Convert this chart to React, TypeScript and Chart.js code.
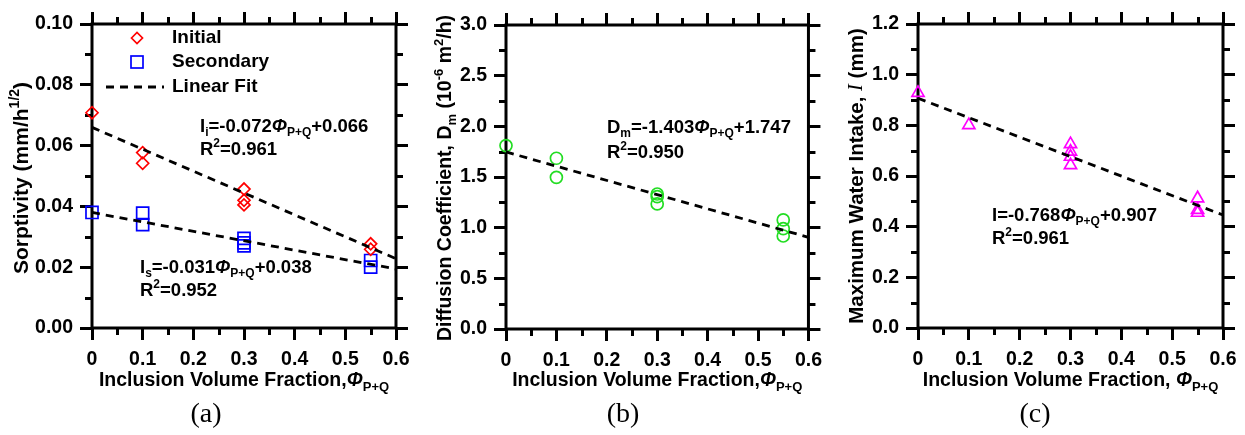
import React, { useEffect, useRef } from 'react';
import { Chart, registerables } from 'chart.js';

Chart.register(...registerables);

const SANS = '"Liberation Sans", Arial, sans-serif';
const SERIF = '"Liberation Serif", "Times New Roman", serif';

// ---- shared x axis ----
const xMajor = [0, 0.1, 0.2, 0.3, 0.4, 0.5, 0.6];
const xMajorLabels = ['0', '0.1', '0.2', '0.3', '0.4', '0.5', '0.6'];
const xMinor = [0.05, 0.15, 0.25, 0.35, 0.45, 0.55];

// ---- panel (a): sorptivity ----
const aYMajor = [0, 0.02, 0.04, 0.06, 0.08, 0.1];
const aYLabels = ['0.00', '0.02', '0.04', '0.06', '0.08', '0.10'];
const aYMinor = [0.01, 0.03, 0.05, 0.07, 0.09];
const initialX = [0, 0.1, 0.1, 0.3, 0.3, 0.3, 0.55, 0.55];
const initialY = [0.0708, 0.0577, 0.0542, 0.0457, 0.042, 0.0405, 0.0277, 0.0259];
const secondaryX = [0, 0.1, 0.1, 0.3, 0.3, 0.3, 0.55, 0.55];
const secondaryY = [0.038, 0.0378, 0.034, 0.0295, 0.028, 0.027, 0.0222, 0.02];
const fitInitialX = [0, 0.6];
const fitInitialY = [0.066, 0.0228];
const fitSecondaryX = [0, 0.6];
const fitSecondaryY = [0.038, 0.0194];

// ---- panel (b): diffusion coefficient ----
const bYMajor = [0, 0.5, 1, 1.5, 2, 2.5, 3];
const bYLabels = ['0.0', '0.5', '1.0', '1.5', '2.0', '2.5', '3.0'];
const bYMinor = [0.25, 0.75, 1.25, 1.75, 2.25, 2.75];
const diffX = [0, 0.1, 0.1, 0.3, 0.3, 0.3, 0.55, 0.55, 0.55];
const diffY = [1.81, 1.685, 1.497, 1.332, 1.306, 1.234, 1.076, 0.99, 0.918];
const fitDiffX = [0, 0.6];
const fitDiffY = [1.747, 0.905];

// ---- panel (c): maximum water intake ----
const cYMajor = [0, 0.2, 0.4, 0.6, 0.8, 1.0, 1.2];
const cYLabels = ['0.0', '0.2', '0.4', '0.6', '0.8', '1.0', '1.2'];
const cYMinor = [0.1, 0.3, 0.5, 0.7, 0.9, 1.1];
const intakeX = [0, 0.1, 0.3, 0.3, 0.3, 0.3, 0.55, 0.55, 0.55];
const intakeY = [0.928, 0.801, 0.726, 0.696, 0.676, 0.643, 0.512, 0.466, 0.455];
const fitIntakeX = [0, 0.6];
const fitIntakeY = [0.907, 0.446];

type Seg = { t: string; sub?: boolean; sup?: boolean; it?: boolean; serif?: boolean; normal?: boolean };

const pts = (xs: number[], ys: number[]) => xs.map((x, i) => ({ x, y: ys[i] }));

function segFont(s: Seg, size: number) {
  const sz = s.sub || s.sup ? Math.round(size * 0.66) : size;
  return `${s.it ? 'italic ' : ''}${s.normal ? '' : 'bold '}${sz}px ${s.serif ? SERIF : SANS}`;
}

function drawRich(ctx: CanvasRenderingContext2D, segs: Seg[], x: number, y: number, size: number, align: 'left' | 'center', rotate = false) {
  ctx.save();
  ctx.translate(x, y);
  if (rotate) ctx.rotate(-Math.PI / 2);
  ctx.textBaseline = 'middle';
  ctx.textAlign = 'left';
  ctx.fillStyle = '#000';
  const widths = segs.map((s) => {
    ctx.font = segFont(s, size);
    return ctx.measureText(s.t).width;
  });
  const total = widths.reduce((a, b) => a + b, 0);
  let cx = align === 'center' ? -total / 2 : 0;
  segs.forEach((s, i) => {
    ctx.font = segFont(s, size);
    const dy = s.sub ? size * 0.33 : s.sup ? -size * 0.33 : 0;
    ctx.fillText(s.t, cx, dy);
    cx += widths[i];
  });
  ctx.restore();
}

type Note = { segs: Seg[]; x: number; y: number };
type PanelCfg = {
  left: number;
  width: number;
  plot: { l: number; r: number; t: number; b: number };
  yMin: number;
  yMax: number;
  yMajor: number[];
  yLabels: string[];
  yMinor: number[];
  datasets: any[];
  xTitle: Seg[];
  yTitle: Seg[];
  yTitleX: number;
  yTitleY: number;
  yTitleSize: number;
  notes: Note[];
  legend?: boolean;
};

const PHI: Seg = { t: 'Φ', it: true };
const PQ: Seg = { t: 'P+Q', sub: true };

const fitStyle = {
  showLine: true,
  borderColor: '#000',
  borderWidth: 2.8,
  borderDash: [8, 6],
  pointRadius: 0,
  fill: false,
  order: 0,
  clip: false,
};

const markerStyle = (color: string, style: string, radius: number) => ({
  showLine: false,
  pointStyle: style,
  pointRadius: radius,
  pointBorderColor: color,
  pointBackgroundColor: 'rgba(0,0,0,0)',
  borderColor: color,
  backgroundColor: 'rgba(0,0,0,0)',
  pointBorderWidth: 1.7,
  order: 1,
  clip: false,
});

const panels: PanelCfg[] = [
  {
    left: 0,
    width: 420,
    plot: { l: 92, r: 396, t: 24, b: 328 },
    yMin: 0,
    yMax: 0.1,
    yMajor: aYMajor,
    yLabels: aYLabels,
    yMinor: aYMinor,
    datasets: [
      { label: 'Linear Fit', data: pts(fitInitialX, fitInitialY), ...fitStyle },
      { label: 'Linear Fit 2', data: pts(fitSecondaryX, fitSecondaryY), ...fitStyle },
      { label: 'Initial', data: pts(initialX, initialY), ...markerStyle('#ff0000', 'rectRot', 6) },
      { label: 'Secondary', data: pts(secondaryX, secondaryY), ...markerStyle('#0000ff', 'rect', 8.5) },
    ],
    xTitle: [{ t: 'Inclusion Volume Fraction,' }, PHI, PQ],
    yTitle: [{ t: 'Sorptivity (mm/h' }, { t: '1/2', sup: true }, { t: ')' }],
    yTitleX: 22,
    yTitleY: 178,
    yTitleSize: 21,
    notes: [
      { segs: [{ t: 'I' }, { t: 'i', sub: true }, { t: '=-0.072' }, PHI, PQ, { t: '+0.066' }], x: 200, y: 127 },
      { segs: [{ t: 'R' }, { t: '2', sup: true }, { t: '=0.961' }], x: 200, y: 150 },
      { segs: [{ t: 'I' }, { t: 's', sub: true }, { t: '=-0.031' }, PHI, PQ, { t: '+0.038' }], x: 140, y: 268 },
      { segs: [{ t: 'R' }, { t: '2', sup: true }, { t: '=0.952' }], x: 140, y: 291 },
    ],
    legend: true,
  },
  {
    left: 420,
    width: 410,
    plot: { l: 506, r: 810, t: 25, b: 329 },
    yMin: 0,
    yMax: 3,
    yMajor: bYMajor,
    yLabels: bYLabels,
    yMinor: bYMinor,
    datasets: [
      { label: 'Fit', data: pts(fitDiffX, fitDiffY), ...fitStyle },
      { label: 'Dm', data: pts(diffX, diffY), ...markerStyle('#22dd22', 'circle', 6) },
    ],
    xTitle: [{ t: 'Inclusion Volume Fraction,' }, PHI, PQ],
    yTitle: [
      { t: 'Diffusion Coefficient, D' },
      { t: 'm', sub: true },
      { t: ' (10' },
      { t: '-6', sup: true },
      { t: ' m' },
      { t: '2', sup: true },
      { t: '/h)' },
    ],
    yTitleX: 446,
    yTitleY: 178,
    yTitleSize: 19.5,
    notes: [
      { segs: [{ t: 'D' }, { t: 'm', sub: true }, { t: '=-1.403' }, PHI, PQ, { t: '+1.747' }], x: 607, y: 128 },
      { segs: [{ t: 'R' }, { t: '2', sup: true }, { t: '=0.950' }], x: 607, y: 153 },
    ],
  },
  {
    left: 830,
    width: 415,
    plot: { l: 918, r: 1223, t: 24, b: 328 },
    yMin: 0,
    yMax: 1.2,
    yMajor: cYMajor,
    yLabels: cYLabels,
    yMinor: cYMinor,
    datasets: [
      { label: 'Fit', data: pts(fitIntakeX, fitIntakeY), ...fitStyle },
      { label: 'I', data: pts(intakeX, intakeY), ...markerStyle('#ff00ff', 'triangle', 7) },
    ],
    xTitle: [{ t: 'Inclusion Volume Fraction, ' }, PHI, PQ],
    yTitle: [{ t: 'Maximum Water Intake, ' }, { t: 'I', it: true, serif: true, normal: true }, { t: ' (mm)' }],
    yTitleX: 857,
    yTitleY: 176,
    yTitleSize: 20.5,
    notes: [
      { segs: [{ t: 'I=-0.768' }, PHI, PQ, { t: '+0.907' }], x: 992, y: 216 },
      { segs: [{ t: 'R' }, { t: '2', sup: true }, { t: '=0.961' }], x: 992, y: 239 },
    ],
  },
];

const captions = [
  { text: '(a)', x: 206 },
  { text: '(b)', x: 623 },
  { text: '(c)', x: 1035 },
];

const H = 435;
const TICK_SIZE = 19.5;
const NOTE_SIZE = 18.5;
const XTITLE_SIZE = 19.5;

function Panel({ cfg }: { cfg: PanelCfg }) {
  const ref = useRef<HTMLCanvasElement>(null);
  useEffect(() => {
    const canvas = ref.current!;
    const { l, r, t, b } = cfg.plot;
    const wl = l - cfg.left;
    const wr = cfg.left + cfg.width - r;
    const ht = t;
    const hb = H - b;
    const off = cfg.left;

    const grid = { drawOnChartArea: false, drawTicks: true, tickLength: 12, tickWidth: 3, tickColor: '#000' };
    const tickFont = { family: SANS, size: TICK_SIZE, weight: 'bold' as const };

    const decor = {
      id: 'decor',
      beforeDatasetsDraw(chart: any) {
        const ctx: CanvasRenderingContext2D = chart.ctx;
        const ca = chart.chartArea;
        ctx.save();
        ctx.strokeStyle = '#000';
        ctx.lineWidth = 3;
        ctx.setLineDash([]);
        ctx.strokeRect(ca.left, ca.top, ca.right - ca.left, ca.bottom - ca.top);
        // minor ticks
        ctx.beginPath();
        xMinor.forEach((v) => {
          const px = Math.round(chart.scales.x.getPixelForValue(v)) + 0.5;
          ctx.moveTo(px, ca.bottom);
          ctx.lineTo(px, ca.bottom + 7);
          ctx.moveTo(px, ca.top);
          ctx.lineTo(px, ca.top - 7);
        });
        cfg.yMinor.forEach((v) => {
          const py = Math.round(chart.scales.y.getPixelForValue(v)) + 0.5;
          ctx.moveTo(ca.left, py);
          ctx.lineTo(ca.left - 7, py);
          ctx.moveTo(ca.right, py);
          ctx.lineTo(ca.right + 7, py);
        });
        ctx.stroke();
        ctx.restore();
      },
      afterDraw(chart: any) {
        const ctx: CanvasRenderingContext2D = chart.ctx;
        const ca = chart.chartArea;
        // axis titles
        drawRich(ctx, cfg.xTitle, (ca.left + ca.right) / 2, 381, XTITLE_SIZE, 'center');
        drawRich(ctx, cfg.yTitle, cfg.yTitleX - off, cfg.yTitleY, cfg.yTitleSize, 'center', true);
        // annotations
        cfg.notes.forEach((n) => drawRich(ctx, n.segs, n.x - off, n.y, NOTE_SIZE, 'left'));
        if (cfg.legend) {
          ctx.save();
          ctx.lineWidth = 1.7;
          // diamond
          ctx.strokeStyle = '#ff0000';
          ctx.beginPath();
          ctx.moveTo(137 - 5.5, 38);
          ctx.lineTo(137, 38 - 5.5);
          ctx.lineTo(137 + 5.5, 38);
          ctx.lineTo(137, 38 + 5.5);
          ctx.closePath();
          ctx.stroke();
          // square
          ctx.strokeStyle = '#0000ff';
          ctx.strokeRect(137 - 6, 62 - 6, 12, 12);
          // dashed line
          ctx.strokeStyle = '#000';
          ctx.lineWidth = 2.8;
          ctx.setLineDash([8, 6]);
          ctx.beginPath();
          ctx.moveTo(106, 87);
          ctx.lineTo(164, 87);
          ctx.stroke();
          ctx.setLineDash([]);
          ctx.restore();
          drawRich(ctx, [{ t: 'Initial' }], 172, 38, 19, 'left');
          drawRich(ctx, [{ t: 'Secondary' }], 172, 62, 19, 'left');
          drawRich(ctx, [{ t: 'Linear Fit' }], 172, 87, 19, 'left');
        }
      },
    };

    const yTicksCb = (_v: any, i: number) => cfg.yLabels[i];
    const xTicksCb = (_v: any, i: number) => xMajorLabels[i];

    const chart = new Chart(canvas, {
      type: 'scatter',
      data: { datasets: cfg.datasets },
      options: {
        responsive: false,
        animation: false,
        devicePixelRatio: 1,
        layout: { padding: 0 },
        plugins: { legend: { display: false }, tooltip: { enabled: false }, title: { display: false } },
        scales: {
          x: {
            type: 'linear',
            position: 'bottom',
            min: 0,
            max: 0.6,
            afterBuildTicks: (s: any) => {
              s.ticks = xMajor.map((v) => ({ value: v }));
            },
            afterFit: (s: any) => {
              s.height = hb;
            },
            ticks: { autoSkip: false, maxRotation: 0, padding: 8, color: '#000', font: tickFont, callback: xTicksCb },
            grid,
            border: { display: false },
          },
          x2: {
            type: 'linear',
            position: 'top',
            min: 0,
            max: 0.6,
            afterBuildTicks: (s: any) => {
              s.ticks = xMajor.map((v) => ({ value: v }));
            },
            afterFit: (s: any) => {
              s.height = ht;
            },
            ticks: { display: false },
            grid,
            border: { display: false },
          },
          y: {
            type: 'linear',
            position: 'left',
            min: cfg.yMin,
            max: cfg.yMax,
            afterBuildTicks: (s: any) => {
              s.ticks = cfg.yMajor.map((v) => ({ value: v }));
            },
            afterFit: (s: any) => {
              s.width = wl;
            },
            ticks: { autoSkip: false, padding: 7, color: '#000', font: tickFont, callback: yTicksCb },
            grid,
            border: { display: false },
          },
          y2: {
            type: 'linear',
            position: 'right',
            min: cfg.yMin,
            max: cfg.yMax,
            afterBuildTicks: (s: any) => {
              s.ticks = cfg.yMajor.map((v) => ({ value: v }));
            },
            afterFit: (s: any) => {
              s.width = wr;
            },
            ticks: { display: false },
            grid,
            border: { display: false },
          },
        },
      } as any,
      plugins: [decor],
    });
    return () => chart.destroy();
  }, [cfg]);

  return (
    <canvas
      ref={ref}
      width={cfg.width}
      height={H}
      style={{ position: 'absolute', left: cfg.left, top: 0, width: cfg.width, height: H }}
    />
  );
}

export default function App() {
  return (
    <div style={{ position: 'absolute', left: 0, top: 0, width: 1245, height: H, background: '#fff', overflow: 'hidden' }}>
      {panels.map((p, i) => (
        <Panel key={i} cfg={p} />
      ))}
      {captions.map((c) => (
        <div
          key={c.text}
          style={{
            position: 'absolute',
            left: c.x - 40,
            width: 80,
            top: 397,
            textAlign: 'center',
            fontFamily: SERIF,
            fontSize: 28,
            lineHeight: '32px',
            color: '#000',
          }}
        >
          {c.text}
        </div>
      ))}
    </div>
  );
}
